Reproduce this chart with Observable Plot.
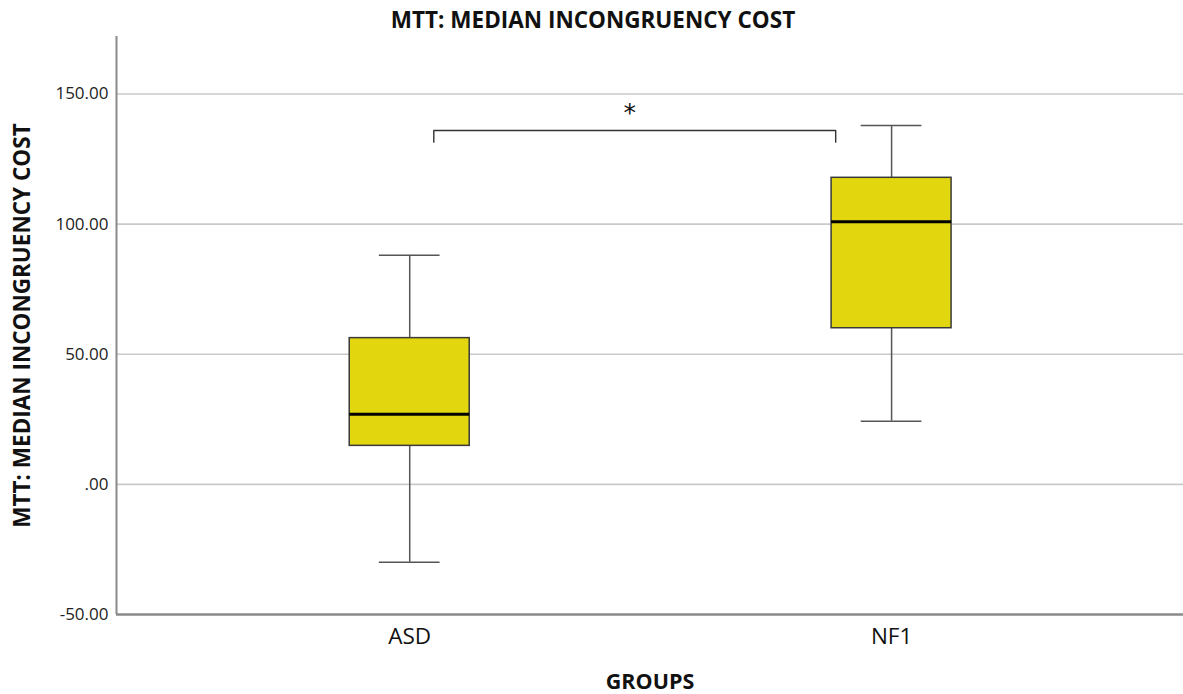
<!DOCTYPE html>
<html>
<head>
<meta charset="utf-8">
<script src="https://cdn.jsdelivr.net/npm/d3@7"></script>
<script src="https://cdn.jsdelivr.net/npm/@observablehq/plot@0.6"></script>
<style>
  html, body { margin: 0; padding: 0; background: #ffffff; }
  #chart svg { display: block; }
</style>
</head>
<body>
<div id="chart"></div>
<script>
// Box-plot summary per group
const groups = ["ASD", "NF1"];
const whiskerLow = [-29.9, 24.3];
const q1 = [14.8, 60.0];
const median = [26.9, 100.9];
const q3 = [56.2, 117.8];
const whiskerHigh = [88.0, 137.9];

// Y axis ticks
const yTicks = [-50, 0, 50, 100, 150];

// Significance bracket between the two groups
const bracketFrom = "ASD";
const bracketTo = "NF1";
const bracketTop = 136;
const bracketFoot = 131.5;
const bracketLabel = "*";

const titleText = "MTT: MEDIAN INCONGRUENCY COST";
const yLabel = "MTT: MEDIAN INCONGRUENCY COST";
const xLabel = "GROUPS";

// groups sit at positions 1, 2 on a linear x scale
const pos = g => groups.indexOf(g) + 1;
const boxHalf = 0.1245;
const capHalf = 0.063;
const xDomain = [0.3915, 2.6058];
const yDomain = [-50, 172.1];

const rows = groups.map((g, i) => ({
  group: g, x: i + 1,
  lo: whiskerLow[i], q1: q1[i], med: median[i], q3: q3[i], hi: whiskerHigh[i]
}));

const bx1 = pos(bracketFrom) + 0.05;
const bx2 = pos(bracketTo) - 0.116;
const bracketPath = [
  {x: bx1, y: bracketFoot}, {x: bx1, y: bracketTop},
  {x: bx2, y: bracketTop}, {x: bx2, y: bracketFoot}
];

const fmt = d => d === 0 ? ".00" : d.toFixed(2);
const font = "'Open Sans', 'DejaVu Sans', sans-serif";

const chart = Plot.plot({
  width: 1183,
  height: 694,
  marginTop: 36,
  marginBottom: 80,
  marginLeft: 116,
  marginRight: 0,
  style: {fontFamily: font, background: "#ffffff", color: "#222"},
  x: {type: "linear", domain: xDomain},
  y: {domain: yDomain},
  marks: [
    // horizontal gridlines
    Plot.ruleY(yTicks.filter(d => d !== yDomain[0]), {stroke: "#c9c9c9", strokeWidth: 1.6}),
    // axis lines
    Plot.ruleX([xDomain[0]], {stroke: "#8a8a8a", strokeWidth: 2}),
    Plot.ruleY([yDomain[0]], {stroke: "#8a8a8a", strokeWidth: 2.5}),
    Plot.axisY({ticks: yTicks, tickFormat: fmt, tickSize: 0, tickPadding: 8,
      label: null, fontSize: 17, fill: "#222"}),
    Plot.axisX({ticks: groups.map(pos), tickFormat: d => groups[d - 1], tickSize: 0,
      tickPadding: 14, label: null, fontSize: 22.5, fill: "#111"}),
    // whiskers
    Plot.ruleX(rows, {x: "x", y1: "q3", y2: "hi", stroke: "#555", strokeWidth: 1.5}),
    Plot.ruleX(rows, {x: "x", y1: "lo", y2: "q1", stroke: "#555", strokeWidth: 1.5}),
    Plot.ruleY(rows, {y: "hi", x1: d => d.x - capHalf, x2: d => d.x + capHalf, stroke: "#555", strokeWidth: 1.5}),
    Plot.ruleY(rows, {y: "lo", x1: d => d.x - capHalf, x2: d => d.x + capHalf, stroke: "#555", strokeWidth: 1.5}),
    // boxes
    Plot.rect(rows, {x1: d => d.x - boxHalf, x2: d => d.x + boxHalf, y1: "q1", y2: "q3",
      fill: "#e2d70e", stroke: "#3a3a3a", strokeWidth: 1.5}),
    // medians
    Plot.ruleY(rows, {y: "med", x1: d => d.x - boxHalf, x2: d => d.x + boxHalf, stroke: "#000", strokeWidth: 3}),
    // significance bracket
    Plot.line(bracketPath, {x: "x", y: "y", stroke: "#333", strokeWidth: 1.4}),
    Plot.text([bracketLabel], {x: (bx1 + bx2) / 2, y: bracketTop, dx: -5, dy: -17,
      fontSize: 25, fontFamily: "'DejaVu Sans', sans-serif", fill: "#111"}),
    // title and axis labels
    Plot.text([titleText], {frameAnchor: "top", dx: -57, dy: -9, lineAnchor: "bottom",
      fontSize: 22.5, fontWeight: "bold", fill: "#111"}),
    Plot.text([yLabel], {frameAnchor: "left", textAnchor: "middle", dx: -94, rotate: -90,
      fontSize: 22.5, fontWeight: "bold", fill: "#111"}),
    Plot.text([xLabel], {frameAnchor: "bottom", dy: 74, lineAnchor: "bottom",
      fontSize: 21.5, fontWeight: "bold", fill: "#111"})
  ]
});

document.getElementById("chart").appendChild(chart);
</script>
</body>
</html>
